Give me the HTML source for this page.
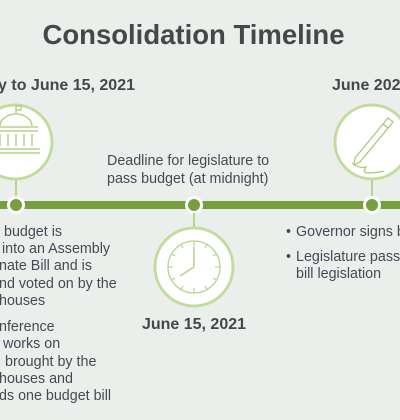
<!DOCTYPE html>
<html><head><meta charset="utf-8"><style>
html,body{margin:0;padding:0;background:#ebefec;overflow:hidden}
svg{display:block;font-family:"Liberation Sans",Arial,sans-serif}
.b{font-size:14.3px;fill:#434a55}
</style></head><body>
<svg width="400" height="420" viewBox="0 0 400 420">
<rect width="400" height="420" fill="#ebefec"/>
<text x="193.5" y="44" text-anchor="middle" font-size="27.5" font-weight="bold" fill="#474747">Consolidation Timeline</text>

<rect x="0" y="201" width="400" height="8" fill="#76a03f"/>

<g>
<text x="135" y="90" text-anchor="end" font-size="16" font-weight="bold" fill="#474747">May to June 15, 2021</text>
<line x1="16" y1="178" x2="16" y2="198" stroke="#b6d48f" stroke-width="2"/>
<circle cx="15" cy="142" r="37" fill="#fff" stroke="#c3dc9e" stroke-width="3"/>
<g stroke="#a9cc78" stroke-width="1.3" fill="none">
<path d="M0 126 a16 12 0 0 1 32 0"/><line x1="16" y1="114" x2="16" y2="106"/><path d="M16 106 h5 v4 h-5"/>
<line x1="-6" y1="127" x2="38" y2="127"/><line x1="-6" y1="131" x2="38" y2="131"/>
<line x1="-8" y1="153" x2="40" y2="153"/><line x1="-8" y1="149" x2="40" y2="149"/>
<line x1="0" y1="134" x2="0" y2="146"/><line x1="8" y1="134" x2="8" y2="146"/><line x1="16" y1="134" x2="16" y2="146"/><line x1="24" y1="134" x2="24" y2="146"/><line x1="32" y1="134" x2="32" y2="146"/>
</g>
<circle cx="16" cy="205" r="7.5" fill="#76a03f" stroke="#fff" stroke-width="3"/>
<text class="b">
<tspan x="4" y="236">budget is</tspan>
<tspan x="2" y="253">into an Assembly</tspan>
<tspan x="-1" y="270">nate Bill and is</tspan>
<tspan x="-1" y="288">nd voted on by the</tspan>
<tspan x="-1" y="305">houses</tspan>
<tspan x="-1" y="331">nference</tspan>
<tspan x="3" y="348">works on</tspan>
<tspan x="5" y="366">brought by the</tspan>
<tspan x="-1" y="383">houses and</tspan>
<tspan x="-1" y="400">ds one budget bill</tspan>
</text>
</g>

<g>
<text class="b"><tspan x="107" y="165">Deadline for legislature to</tspan><tspan x="107" y="183">pass budget (at midnight)</tspan></text>
<circle cx="194" cy="205" r="7.5" fill="#76a03f" stroke="#fff" stroke-width="3"/>
<line x1="194" y1="213" x2="194" y2="227" stroke="#b6d48f" stroke-width="2"/>
<circle cx="194" cy="267" r="39" fill="#fff" stroke="#c3dc9e" stroke-width="3"/>
<circle cx="194" cy="267" r="26" fill="none" stroke="#b6d48f" stroke-width="1.3"/>
<g stroke="#b6d48f" stroke-width="1.2">
<line x1="194" y1="241" x2="194" y2="246"/><line x1="194" y1="288" x2="194" y2="293"/><line x1="168" y1="267" x2="173" y2="267"/><line x1="215" y1="267" x2="220" y2="267"/>
<line x1="207" y1="244.5" x2="205" y2="248"/><line x1="181" y1="244.5" x2="183" y2="248"/><line x1="207" y1="289.5" x2="205" y2="286"/><line x1="181" y1="289.5" x2="183" y2="286"/>
<line x1="216.5" y1="254" x2="213" y2="256"/><line x1="171.5" y1="254" x2="175" y2="256"/><line x1="216.5" y1="280" x2="213" y2="278"/><line x1="171.5" y1="280" x2="175" y2="278"/>
<line x1="194" y1="267" x2="194" y2="247" stroke-width="1.6"/><line x1="194" y1="267" x2="180" y2="276" stroke-width="1.6"/>
</g>
<text x="194" y="329" text-anchor="middle" font-size="16" font-weight="bold" fill="#474747">June 15, 2021</text>
</g>

<g>
<text x="332" y="90" font-size="16" font-weight="bold" fill="#474747">June 2021</text>
<line x1="372" y1="180" x2="372" y2="198" stroke="#b6d48f" stroke-width="2"/>
<circle cx="372" cy="142" r="37" fill="#fff" stroke="#c3dc9e" stroke-width="3"/>
<g stroke="#a9cc78" stroke-width="1.3" fill="none">
<path d="M355 158 l33 -40 l5 4 l-33 40 l-6 3 z"/><line x1="383" y1="124" x2="388" y2="128"/>
<path d="M352 163 q8 6 14 4 q-4 6 2 6 q8 0 16 -2"/>
</g>
<circle cx="372" cy="205" r="7.5" fill="#76a03f" stroke="#fff" stroke-width="3"/>
<text class="b">
<tspan x="286" y="236">•</tspan><tspan x="296" y="236">Governor signs budget</tspan>
<tspan x="286" y="261">•</tspan><tspan x="296" y="261">Legislature passes</tspan>
<tspan x="296" y="278">bill legislation</tspan>
</text>
</g>
</svg>
</body></html>
